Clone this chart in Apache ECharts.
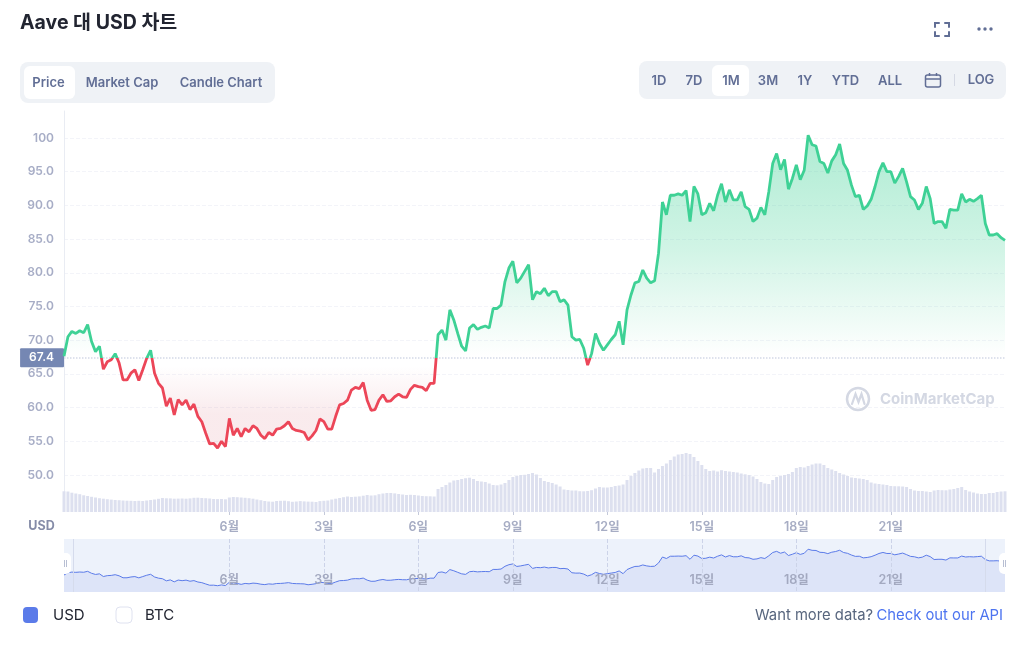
<!DOCTYPE html>
<html><head><meta charset="utf-8">
<style>html,body{margin:0;padding:0;background:#fff}#c{width:1024px;height:649px}</style>
<script src="https://cdn.jsdelivr.net/npm/echarts@6/dist/echarts.min.js"></script>
</head><body><div id="c"></div>
<script>
const priceUSD = [67.6,70.5,71.3,71.0,71.4,71.1,72.3,69.8,68.3,69.1,
65.7,66.8,67.1,68.0,66.6,64.1,64.1,65.1,65.6,64.0,
65.6,67.3,68.5,65.1,63.6,62.9,60.2,61.4,58.9,61.2,
60.4,61.1,59.7,60.5,58.7,57.9,56.2,54.6,54.7,54.0,
55.0,54.2,58.4,55.9,56.9,55.7,56.9,56.4,57.3,56.9,
55.9,55.4,56.3,55.9,56.8,56.9,57.3,57.9,56.9,56.6,
56.5,56.3,55.2,55.8,56.6,58.3,57.9,56.8,56.8,58.7,
60.4,60.6,61.1,62.6,63.0,62.8,63.7,61.1,59.6,59.7,
61.1,61.9,60.9,61.0,61.6,62.0,61.6,61.5,62.7,63.3,
63.1,63.0,62.5,63.6,63.6,70.8,71.5,70.0,74.5,73.0,
71.0,69.1,68.4,71.8,72.3,71.6,71.9,72.1,71.8,74.7,
74.7,75.2,78.7,80.7,81.7,78.5,79.2,80.2,81.2,76.0,
77.2,76.9,77.7,76.6,77.2,77.2,75.7,76.0,75.2,70.5,
70.0,70.1,68.8,66.3,68.0,71.0,69.5,68.5,69.3,70.1,
70.8,72.8,69.3,74.5,76.7,78.5,78.7,80.4,79.2,78.5,
78.8,82.9,90.5,88.6,91.5,91.5,91.7,91.5,92.2,87.6,
92.8,91.7,88.6,88.9,90.3,89.2,91.5,93.2,90.5,92.3,
90.8,90.8,92.0,89.8,89.4,87.6,88.1,89.7,88.6,92.0,
96.2,97.7,95.3,96.8,92.4,94.0,96.0,93.8,95.2,100.4,
99.0,98.8,96.5,96.2,94.8,96.6,97.5,99.1,96.2,95.2,
93.0,91.3,91.5,89.4,89.9,90.9,92.8,95.0,96.3,95.0,
95.0,93.3,94.3,95.5,93.5,91.3,90.8,89.4,90.3,92.8,
91.0,87.3,87.6,87.6,86.6,89.4,89.3,89.3,91.7,90.5,
90.9,90.6,91.0,91.5,87.3,85.6,85.6,85.8,85.2,84.8];
const volumeUSD = [20.7,20.5,19.3,18.5,17.8,16.7,16,15.2,14.5,13.8,
13.3,12.8,12.4,12,11.8,11.5,11.3,11.2,11,11.2,
11,11.5,12,12.5,13.2,14,13.7,13.6,13.3,13.4,
13.5,13.3,13.6,14.2,14.3,14,13.8,13.5,13,12.9,
13,12.7,14.5,15,14.8,14.5,14.2,13.8,13.3,12.5,
11.8,11,10.5,10.3,11,11.2,11.3,10.8,10.2,10.5,
10.9,10.6,10.4,10.3,10,10.9,11.2,11.5,12.5,13.3,
14,14.8,15.5,15,15.3,15.6,16.3,17,16.5,16.7,
17.8,18.5,19,19,18.6,18,17.5,17,17.2,17,
16.5,16,15.8,15.7,15.5,23,25,27,29.5,31.5,
32,33,33.8,34.3,33,31,30.5,30,28.5,27,
26.7,27.5,29,32,35,36,37,37.2,38,39,
37.5,34,31,30,29,27.5,25.5,22.5,22,21.5,
21.5,20.8,20.7,21,21.8,23.5,25,24.5,24.5,25,
26,26.5,27.5,32,36,39,41.5,43.5,44,44,
39.5,43,46,48.5,52,55.5,57.5,58,59,58,
55,51,47,43,41,41.5,40.5,41.8,41,40.5,
40,39.5,38.5,37.7,37,35.5,33,30,28.5,28,
32,35,36,37,38,40,44,45,44.5,46,
47.5,48.5,48.5,47,44,42.5,41,39,37.5,36,
34.5,34,33.5,33,32,29.5,28.5,28,27.5,27,
26,25.8,25.7,25.5,25,23,21.5,21,21,20.5,
20,21.5,22,21.8,21.7,22.5,23,24,25,22,
20.5,19.5,18.5,18,18,19,19,20,20.5,20.7];
const startPrice = 67.4;
const tickIndex = [42,66,90,114,138,162,186,210];
const tickLabels = ['6월','3일','6일','9일','12일','15일','18일','21일'];
const categories = priceUSD.map((_, i) => 'T' + (i * 3) + 'h');
const labelOf = {}; tickIndex.forEach((ix, k) => labelOf[ix] = tickLabels[k]);
const isTick = ix => labelOf[ix] !== undefined;

const FONT = 'Inter, "Noto Sans CJK KR", sans-serif';
const NAVY = '#616e95', GREEN = '#3ed195', RED = '#ec4658';

function t(x, y, text, o) {
  o = o || {};
  return {type:'text', x:x, y:y, z:50, silent:true, style:{text:text, fontFamily:FONT,
    fontSize:o.size||13, fontWeight:o.weight||600, fill:o.color||NAVY,
    align:o.align||'center', verticalAlign:'middle'}};
}
function box(x,y,w,h,r,fill,stroke) {
  return {type:'rect', z:40, silent:true, shape:{x:x,y:y,width:w,height:h,r:r},
    style:{fill:fill, stroke:stroke||null, lineWidth:stroke?1:0}};
}
function seg(x1,y1,x2,y2,color,w) {
  return {type:'line', z:45, silent:true, shape:{x1:x1,y1:y1,x2:x2,y2:y2},
    style:{stroke:color, lineWidth:w||1}};
}
function poly(points,color,w) {
  return {type:'polyline', z:45, silent:true, shape:{points:points},
    style:{stroke:color, lineWidth:w||2, fill:null, lineCap:'round'}};
}
const elements = [
  t(20,23,'Aave 대 USD 차트',{size:19.5,weight:700,color:'#222531',align:'left'}),
  // fullscreen icon
  poly([[935,27],[935,23],[939,23]],NAVY), poly([[945,23],[949,23],[949,27]],NAVY),
  poly([[935,32],[935,36],[939,36]],NAVY), poly([[945,36],[949,36],[949,32]],NAVY),
  {type:'circle',z:45,silent:true,shape:{cx:979,cy:29,r:1.7},style:{fill:NAVY}},
  {type:'circle',z:45,silent:true,shape:{cx:985,cy:29,r:1.7},style:{fill:NAVY}},
  {type:'circle',z:45,silent:true,shape:{cx:991,cy:29,r:1.7},style:{fill:NAVY}},
  // left tab bar
  box(20,62,255,41,8,'#eff2f6'), box(24,66,51,33,6,'#ffffff'),
  t(48.5,83.5,'Price'), t(122,83.5,'Market Cap'), t(221,83.5,'Candle Chart'),
  // right range bar
  box(639,61,367,38,8,'#eff2f6'), box(712,65,37,31,6,'#ffffff'),
  t(659,81.5,'1D'), t(694,81.5,'7D'), t(731,81.5,'1M'), t(768,81.5,'3M'), t(805,81.5,'1Y'),
  t(845.5,81.5,'YTD'), t(890,81.5,'ALL'), t(981,80.5,'LOG'),
  {type:'rect',z:45,silent:true,shape:{x:925.5,y:75,width:15,height:12,r:2},style:{fill:null,stroke:NAVY,lineWidth:1.5}},
  seg(925.5,79,940.5,79,NAVY,1.5), seg(929.5,73,929.5,76,NAVY,1.5), seg(936.5,73,936.5,76,NAVY,1.5),
  seg(954.5,74,954.5,86,'#d5d9e4',1),
  // watermark
  {type:'circle',z:30,silent:true,shape:{cx:858,cy:399,r:11},style:{fill:null,stroke:'#d4d8e3',lineWidth:2.5}},
  poly([[852,404],[855.5,394],[858.5,402],[861.5,394],[864.5,404]],'#d4d8e3',2.2),
  t(880,399.5,'CoinMarketCap',{size:15,weight:700,color:'#d4d8e3',align:'left'}),
  // USD axis caption
  t(41.5,526,'USD',{size:12.5,weight:700,color:'#858ca8'}),
  // navigator handles and end guides
  seg(73.5,539,73.5,592,'#d5dbec',1), seg(985.5,539,985.5,592,'#d5dbec',1),
  box(60,553,11,21,5,'#ffffff'), seg(64.5,560,64.5,567,'#b8bfd3',1), seg(66.5,560,66.5,567,'#b8bfd3',1),
  box(999,553,11,21,5,'#ffffff'), seg(1003.5,560,1003.5,567,'#b8bfd3',1), seg(1005.5,560,1005.5,567,'#b8bfd3',1),
  // legend
  box(23,607,15,16,4,'#5b7be9'), t(53,615.5,'USD',{size:15,weight:400,color:'#222531',align:'left'}),
  box(116,607,16,16,4,'#ffffff','#dfe2f0'), t(145,615.5,'BTC',{size:15,weight:400,color:'#222531',align:'left'}),
  // footer
  t(873,615.5,'Want more data?',{size:14.8,weight:400,color:'#58667e',align:'right'}),
  t(876.5,615.5,'Check out our API',{size:14.8,weight:400,color:'#4d74f0',align:'left'})
];

const priceArea = new echarts.graphic.LinearGradient(0,134,0,452,[
  {offset:0,color:'rgba(62,209,149,0.42)'},
  {offset:0.36,color:'rgba(62,209,149,0.24)'},
  {offset:0.70,color:'rgba(62,209,149,0.0)'},
  {offset:0.73,color:'rgba(205,70,90,0.0)'},
  {offset:0.88,color:'rgba(205,70,90,0.11)'},
  {offset:1,color:'rgba(205,70,90,0.11)'}
], true);

const chart = echarts.init(document.getElementById('c'));
chart.setOption({
  animation:false,
  backgroundColor:'#ffffff',
  textStyle:{fontFamily:FONT},
  grid:[
    {left:64, width:941, top:111, height:397.66},
    {left:64, width:941, top:447, height:65},
    {left:64, width:941, top:539, height:53, show:true, backgroundColor:'#edf2fb', borderWidth:0}
  ],
  xAxis:[
    {gridIndex:0, type:'category', data:categories, boundaryGap:false, show:false},
    {gridIndex:1, type:'category', data:categories, boundaryGap:false,
      axisLine:{show:false},
      axisTick:{show:true, length:3, alignWithLabel:true, interval:isTick, lineStyle:{color:'#c4c9da'}},
      axisLabel:{interval:isTick, margin:9, fontSize:12.5, fontWeight:600, fontFamily:FONT,
        color:(v,i)=> i===42 ? '#878ea8' : '#a7adc4',
        formatter:(v,i)=>labelOf[i]||''}},
    {gridIndex:2, type:'category', data:categories, boundaryGap:false, z:8,
      axisLine:{show:false}, axisTick:{show:false},
      splitLine:{show:true, interval:isTick, lineStyle:{color:'#ccd3e8', type:'dashed', width:1}},
      axisLabel:{inside:true, interval:isTick, margin:6, fontSize:12.5, fontWeight:600, fontFamily:FONT, color:'#a3a9c0',
        formatter:(v,i)=>labelOf[i]||''}}
  ],
  yAxis:[
    {gridIndex:0, type:'value', min:45, max:104, interval:5,
      axisLine:{show:true, lineStyle:{color:'#e9ecf3'}}, axisTick:{show:false},
      splitLine:{show:true, showMinLine:false, showMaxLine:false, lineStyle:{color:'#f3f4f9', type:'dashed'}},
      axisLabel:{margin:10, fontSize:12, fontWeight:600, fontFamily:FONT, color:'#a7adc6', showMaxLabel:false, padding:[2,0,0,0],
        formatter:v=> v<50 ? '' : (v>=100 ? String(v) : v.toFixed(1))}},
    {gridIndex:1, type:'value', min:0, max:65, show:false, splitLine:{show:false}},
    {gridIndex:2, type:'value', min:46, max:113.4, show:false, splitLine:{show:false}}
  ],
  visualMap:{show:false, type:'piecewise', seriesIndex:0, dimension:1,
    pieces:[{min:40,max:startPrice,color:RED},{min:startPrice,max:110,color:GREEN}]},
  series:[
    {name:'USD', type:'line', xAxisIndex:0, yAxisIndex:0, data:priceUSD, showSymbol:false, symbol:'none', z:5,
      lineStyle:{width:2.8, join:'bevel'}, areaStyle:{origin:startPrice, color:priceArea, opacity:1},
      markLine:{silent:true, symbol:'none', animation:false,
        lineStyle:{color:'#d4d9e8', type:'dotted', width:1.5},
        label:{show:true, position:'start', distance:0, formatter:()=>startPrice.toFixed(1), color:'#fff', fontSize:12, fontWeight:600,
          fontFamily:FONT, backgroundColor:'#7587b3', padding:[4,10,3,9], borderRadius:1},
        data:[{yAxis:startPrice}]}},
    {name:'USD volume', type:'bar', xAxisIndex:1, yAxisIndex:1, data:volumeUSD, barWidth:3,
      itemStyle:{color:'#dde0ef'}, z:2},
    {name:'USD navigator', type:'line', xAxisIndex:2, yAxisIndex:2, data:priceUSD, showSymbol:false, symbol:'none', z:3,
      lineStyle:{width:1, color:'#5b7be9'}, areaStyle:{color:'#dde4f8', opacity:1}}
  ],
  graphic:{elements:elements}
});
</script></body></html>
